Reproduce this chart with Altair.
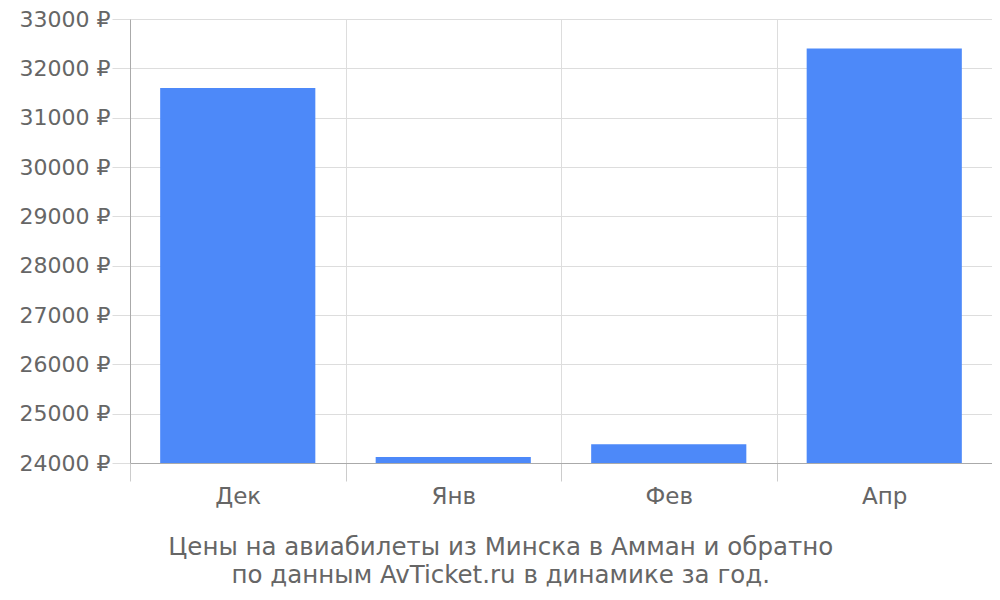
import altair as alt
import pandas as pd

months = ["Дек", "Янв", "Фев", "Апр"]
prices = [31600, 24120, 24380, 32400]
y_ticks = [24000, 25000, 26000, 27000, 28000, 29000, 30000, 31000, 32000, 33000]
title_lines = ["Цены на авиабилеты из Минска в Амман и обратно",
               "по данным AvTicket.ru в динамике за год."]

df = pd.DataFrame({"month": months, "price": prices})

FONT = "DejaVu Sans"

chart = alt.Chart(df).mark_bar(color="#4D89F9", width=alt.RelativeBandSize(0.72)).encode(
    x=alt.X("month:N", sort=months, title=None,
            scale=alt.Scale(paddingInner=0, paddingOuter=0),
            axis=alt.Axis(labelAngle=0, labelFontSize=23, labelColor="#666666",
                          labelFont=FONT, labelPadding=4,
                          grid=True, gridColor="#dddddd", tickBand="extent",
                          tickSize=18, tickColor="#cccccc",
                          domainColor="#aaaaaa")),
    y=alt.Y("price:Q", title=None,
            scale=alt.Scale(domain=[24000, 33000], nice=False, zero=False),
            axis=alt.Axis(values=y_ticks, labelFontSize=22, labelColor="#666666",
                          labelFont=FONT, labelPadding=2,
                          labelExpr="format(datum.value, 'd') + ' ₽'",
                          grid=True, gridColor="#dddddd",
                          tickSize=18, tickColor="#dddddd",
                          domainColor="#aaaaaa")),
    y2=alt.datum(24000),
).properties(
    width=862,
    height=444,
    autosize=alt.AutoSizeParams(type="none"),
    padding={"left": 122, "top": 11, "right": 0, "bottom": 130},
    title=alt.TitleParams(text=title_lines, orient="bottom", anchor="middle",
                          frame="bounds", fontSize=24.5, font=FONT,
                          fontWeight="normal", color="#666666",
                          lineHeight=28, offset=28, dx=-5),
).configure_view(stroke=None)

chart.save("out.html", embed_options={"renderer": "svg", "actions": False})
